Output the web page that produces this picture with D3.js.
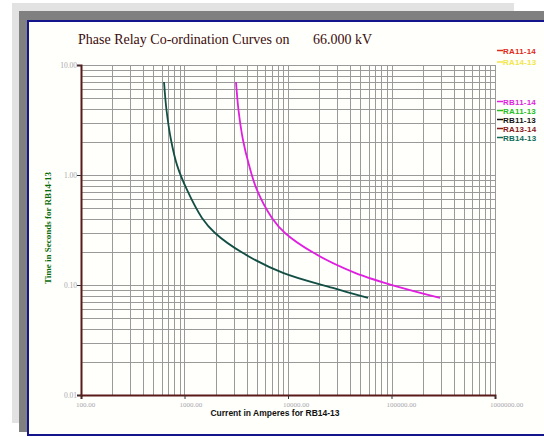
<!DOCTYPE html>
<html>
<head>
<meta charset="utf-8">
<script src="https://cdn.jsdelivr.net/npm/d3@7"></script>
<style>
  body { margin: 0; background: #fff; }
  svg { display: block; }
</style>
</head>
<body>
<div id="chart"></div>
<script>
'use strict';

/**** DATA ****/
var chartTitle = "Phase Relay Co-ordination Curves on";
var chartVoltage = "66.000 kV";
var xAxisTitle = "Current in Amperes for RB14-13";
var yAxisTitle = "Time in Seconds for RB14-13";

var xTickValues = [100, 1000, 10000, 100000, 1000000];
var xTickLabels = ["100.00", "1000.00", "10000.00", "100000.00", "1000000.00"];
var yTickValues = [0.01, 0.1, 1, 10];
var yTickLabels = ["0.01", "0.10", "1.00", "10.00"];

var legendNames = ["RA11-14", "RA14-13", "RB11-14", "RA11-13", "RB11-13", "RA13-14", "RB14-13"];
var legendColors = ["#e02a1a", "#f2e64a", "#e01ee0", "#22c022", "#111111", "#8a1a1a", "#0e6a5a"];

// RB14-13 curve (teal)
var rb1413Current = [634, 670, 741, 847, 1058, 1476, 1972, 3675, 8950, 27200, 59300];
var rb1413Time = [7.01, 3.90, 2.08, 1.23, 0.731, 0.407, 0.297, 0.195, 0.129, 0.094, 0.0762];
// RB11-14 curve (magenta)
var rb1114Current = [3145, 3324, 3675, 4200, 5012, 7000, 9355, 17830, 44400, 126200, 294400];
var rb1114Time = [7.01, 3.90, 2.08, 1.23, 0.731, 0.407, 0.297, 0.195, 0.129, 0.094, 0.0762];

/**** SETUP ****/
var width = 544, height = 437;
var svg = d3.select("#chart").append("svg")
  .attr("width", width)
  .attr("height", height);

// frame layers
svg.append("rect").attr("x", 12).attr("y", 3).attr("width", 502).attr("height", 420).attr("fill", "#e2e2e2");
svg.append("rect").attr("x", 19).attr("y", 11).attr("width", 540).attr("height", 421).attr("fill", "#808080");
svg.append("rect").attr("x", 28).attr("y", 21).attr("width", 530).attr("height", 414)
  .attr("fill", "#fffffb").attr("stroke", "#14148c").attr("stroke-width", 2);

var x = d3.scaleLog().domain([100, 1000000]).range([81, 495]);
var y = d3.scaleLog().domain([0.01, 10]).range([395, 65]);

// grid values (1..9 per decade)
var xGrid = [];
for (var d = 100; d < 1000000; d *= 10) {
  for (var k = 1; k < 10; k++) xGrid.push(d * k);
}
xGrid.push(1000000);
var yGrid = [];
for (var e = 0.01; e < 9.99; e *= 10) {
  for (var m = 1; m < 10; m++) yGrid.push(e * m);
}
yGrid.push(10);

var grid = svg.append("g");
grid.selectAll(".vgrid").data(xGrid).enter().append("line")
  .attr("class", "vgrid")
  .attr("x1", function(v) { return Math.round(x(v)) + 0.5; })
  .attr("x2", function(v) { return Math.round(x(v)) + 0.5; })
  .attr("y1", y(10)).attr("y2", y(0.01))
  .attr("stroke", "#9a9a9a").attr("stroke-width", 1);
grid.selectAll(".hgrid").data(yGrid).enter().append("line")
  .attr("class", "hgrid")
  .attr("y1", function(v) { return Math.round(y(v)) + 0.5; })
  .attr("y2", function(v) { return Math.round(y(v)) + 0.5; })
  .attr("x1", x(100)).attr("x2", x(1000000))
  .attr("stroke", "#9a9a9a").attr("stroke-width", 1);

// axes
var xAxis = d3.axisBottom(x).tickValues(xTickValues).tickSize(4).tickFormat("");
var yAxis = d3.axisLeft(y).tickValues(yTickValues).tickSize(4).tickFormat("");
var gx = svg.append("g").attr("transform", "translate(0," + y(0.01) + ")").call(xAxis);
var gy = svg.append("g").attr("transform", "translate(" + x(100) + ",0)").call(yAxis);
[gx, gy].forEach(function(g) {
  g.select(".domain").attr("stroke", "#5a1a1a").attr("stroke-width", 2);
  g.selectAll(".tick line").attr("stroke", "#333").attr("stroke-width", 1);
});

// tick labels
svg.selectAll(".xlab").data(xTickValues).enter().append("text")
  .attr("x", function(v) { return x(v) - 5; })
  .attr("y", 407)
  .attr("font-family", "Liberation Serif, serif")
  .attr("font-size", 7)
  .attr("fill", "#a8a8b0")
  .text(function(v, i) { return xTickLabels[i]; });
svg.selectAll(".ylab").data(yTickValues).enter().append("text")
  .attr("x", 77)
  .attr("y", function(v) { return y(v) + 2.5; })
  .attr("text-anchor", "end")
  .attr("font-family", "Liberation Serif, serif")
  .attr("font-size", 7.5)
  .attr("fill", "#a8a8b0")
  .text(function(v, i) { return yTickLabels[i]; });

// titles
var title = svg.append("text").attr("x", 78).attr("y", 44)
  .attr("font-family", "Liberation Serif, serif")
  .attr("font-size", 14)
  .attr("fill", "#3c0c0c");
title.append("tspan").text(chartTitle);
title.append("tspan").attr("x", 313).text(chartVoltage);

svg.append("text").attr("x", 275).attr("y", 416)
  .attr("text-anchor", "middle")
  .attr("font-family", "Liberation Sans, sans-serif")
  .attr("font-weight", "bold")
  .attr("font-size", 8.5)
  .attr("fill", "#111")
  .text(xAxisTitle);

svg.append("text")
  .attr("transform", "translate(51,228) rotate(-90)")
  .attr("text-anchor", "middle")
  .attr("font-family", "Liberation Serif, serif")
  .attr("font-weight", "bold")
  .attr("font-size", 9)
  .attr("fill", "#0a6a0a")
  .text(yAxisTitle);

// curves
var line = d3.line()
  .x(function(p) { return x(p[0]); })
  .y(function(p) { return y(p[1]); })
  .curve(d3.curveCatmullRom.alpha(0.5));

var curves = [
  { current: rb1114Current, time: rb1114Time, color: legendColors[2] },
  { current: rb1413Current, time: rb1413Time, color: "#124e44" }
];
svg.append("g").selectAll("path").data(curves).enter().append("path")
  .attr("d", function(c) { return line(d3.zip(c.current, c.time)); })
  .attr("fill", "none")
  .attr("stroke", function(c) { return c.color; })
  .attr("stroke-width", 1.8);

// legend
var legendY = function(i) { return i < 2 ? 50 + i * 11.5 : 101 + (i - 2) * 9; };
var legend = svg.append("g").selectAll("g").data(legendNames).enter().append("g")
  .attr("transform", function(n, i) { return "translate(497," + legendY(i) + ")"; });
legend.append("line")
  .attr("x1", 0).attr("x2", 6).attr("y1", 0.5).attr("y2", 0.5)
  .attr("stroke", function(n, i) { return legendColors[i]; })
  .attr("stroke-width", 1.5);
legend.append("text")
  .attr("x", 6).attr("y", 3.5)
  .attr("font-family", "Liberation Sans, sans-serif")
  .attr("font-weight", "bold")
  .attr("font-size", 8)
  .attr("letter-spacing", 0.2)
  .attr("fill", function(n, i) { return legendColors[i]; })
  .text(function(n) { return n; });
</script>
</body>
</html>
